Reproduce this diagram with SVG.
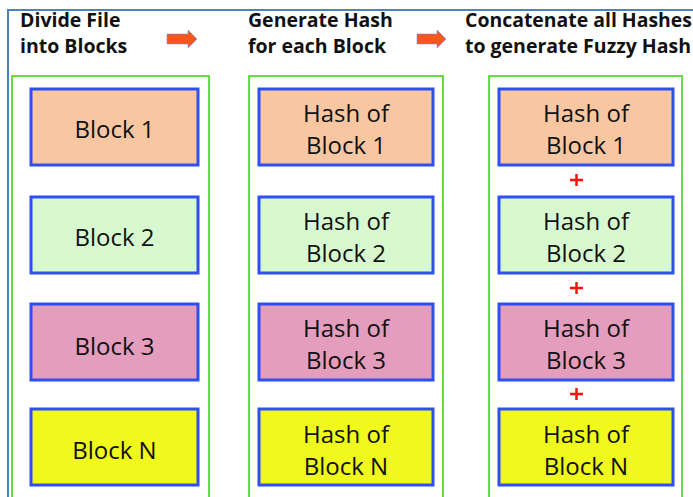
<svg xmlns="http://www.w3.org/2000/svg" width="693" height="497" viewBox="0 0 693 497">
<style>
.hdr{font-family:"Open Sans","Liberation Sans",sans-serif;font-weight:bold;font-size:19.5px;fill:#111}
.lbl{font-family:"Open Sans","Liberation Sans",sans-serif;font-size:24px;fill:#111;text-anchor:middle}
.col{fill:none;stroke:#66dd44;stroke-width:2}
.box{stroke:#2f4ff5;stroke-width:3}
.b1{fill:#f9c6a2}.b2{fill:#d8f9cf}.b3{fill:#e49dbd}.bn{fill:#f0f81e}
.plus{stroke:#ff1010;stroke-width:2.5}
.arr{fill:#f5581a;stroke:#7a8ff0;stroke-width:0.6}
</style>
<rect x="0" y="0" width="693" height="497" fill="#ffffff"/>
<path d="M8,520 V10 H700" fill="none" stroke="#4f81bd" stroke-width="2"/>
<g id="headers">
<text class="hdr" x="20" y="27">Divide File</text>
<text class="hdr" x="20" y="53">into Blocks</text>
<text class="hdr" x="248" y="27">Generate Hash</text>
<text class="hdr" x="248" y="53">for each Block</text>
<text class="hdr" x="465" y="27" textLength="227" lengthAdjust="spacingAndGlyphs">Concatenate all Hashes</text>
<text class="hdr" x="465" y="53" textLength="226" lengthAdjust="spacingAndGlyphs">to generate Fuzzy Hash</text>
</g>
<g id="connectors">
<path class="arr" d="M167,34 H188 V30 L197,39 L188,48 V44 H167 Z"/>
<path class="arr" d="M417,34 H437 V30 L446,39 L437,48 V44 H417 Z"/>
<path class="plus" d="M570,180 H583 M576.5,174 V186"/>
<path class="plus" d="M570,288 H583 M576.5,282 V294"/>
<path class="plus" d="M570,394 H583 M576.5,388 V400"/>
</g>
<g id="col1">
<rect class="col" x="12" y="76" width="197" height="440"/>
<g id="block1"><rect class="box b1" x="31" y="89" width="167" height="76"/><text class="lbl" x="114.5" y="138">Block 1</text></g>
<g id="block2"><rect class="box b2" x="31" y="197" width="167" height="76"/><text class="lbl" x="114.5" y="246">Block 2</text></g>
<g id="block3"><rect class="box b3" x="31" y="304" width="167" height="76"/><text class="lbl" x="114.5" y="355">Block 3</text></g>
<g id="blockN"><rect class="box bn" x="31" y="409" width="167" height="76"/><text class="lbl" x="114.5" y="459">Block N</text></g>
</g>
<g id="col2">
<rect class="col" x="249" y="76" width="194" height="440"/>
<g id="hash1"><rect class="box b1" x="259" y="89" width="174" height="76"/><text class="lbl" x="346" y="122">Hash of</text><text class="lbl" x="346" y="154">Block 1</text></g>
<g id="hash2"><rect class="box b2" x="259" y="197" width="174" height="76"/><text class="lbl" x="346" y="230">Hash of</text><text class="lbl" x="346" y="262">Block 2</text></g>
<g id="hash3"><rect class="box b3" x="259" y="304" width="174" height="76"/><text class="lbl" x="346" y="337">Hash of</text><text class="lbl" x="346" y="369">Block 3</text></g>
<g id="hashN"><rect class="box bn" x="259" y="409" width="174" height="76"/><text class="lbl" x="346" y="443">Hash of</text><text class="lbl" x="346" y="475">Block N</text></g>
</g>
<g id="col3">
<rect class="col" x="489" y="76" width="193" height="440"/>
<g id="cat1"><rect class="box b1" x="499" y="89" width="174" height="76"/><text class="lbl" x="586" y="122">Hash of</text><text class="lbl" x="586" y="154">Block 1</text></g>
<g id="cat2"><rect class="box b2" x="499" y="197" width="174" height="76"/><text class="lbl" x="586" y="230">Hash of</text><text class="lbl" x="586" y="262">Block 2</text></g>
<g id="cat3"><rect class="box b3" x="499" y="304" width="174" height="76"/><text class="lbl" x="586" y="337">Hash of</text><text class="lbl" x="586" y="369">Block 3</text></g>
<g id="catN"><rect class="box bn" x="499" y="409" width="174" height="76"/><text class="lbl" x="586" y="443">Hash of</text><text class="lbl" x="586" y="475">Block N</text></g>
</g>
</svg>
